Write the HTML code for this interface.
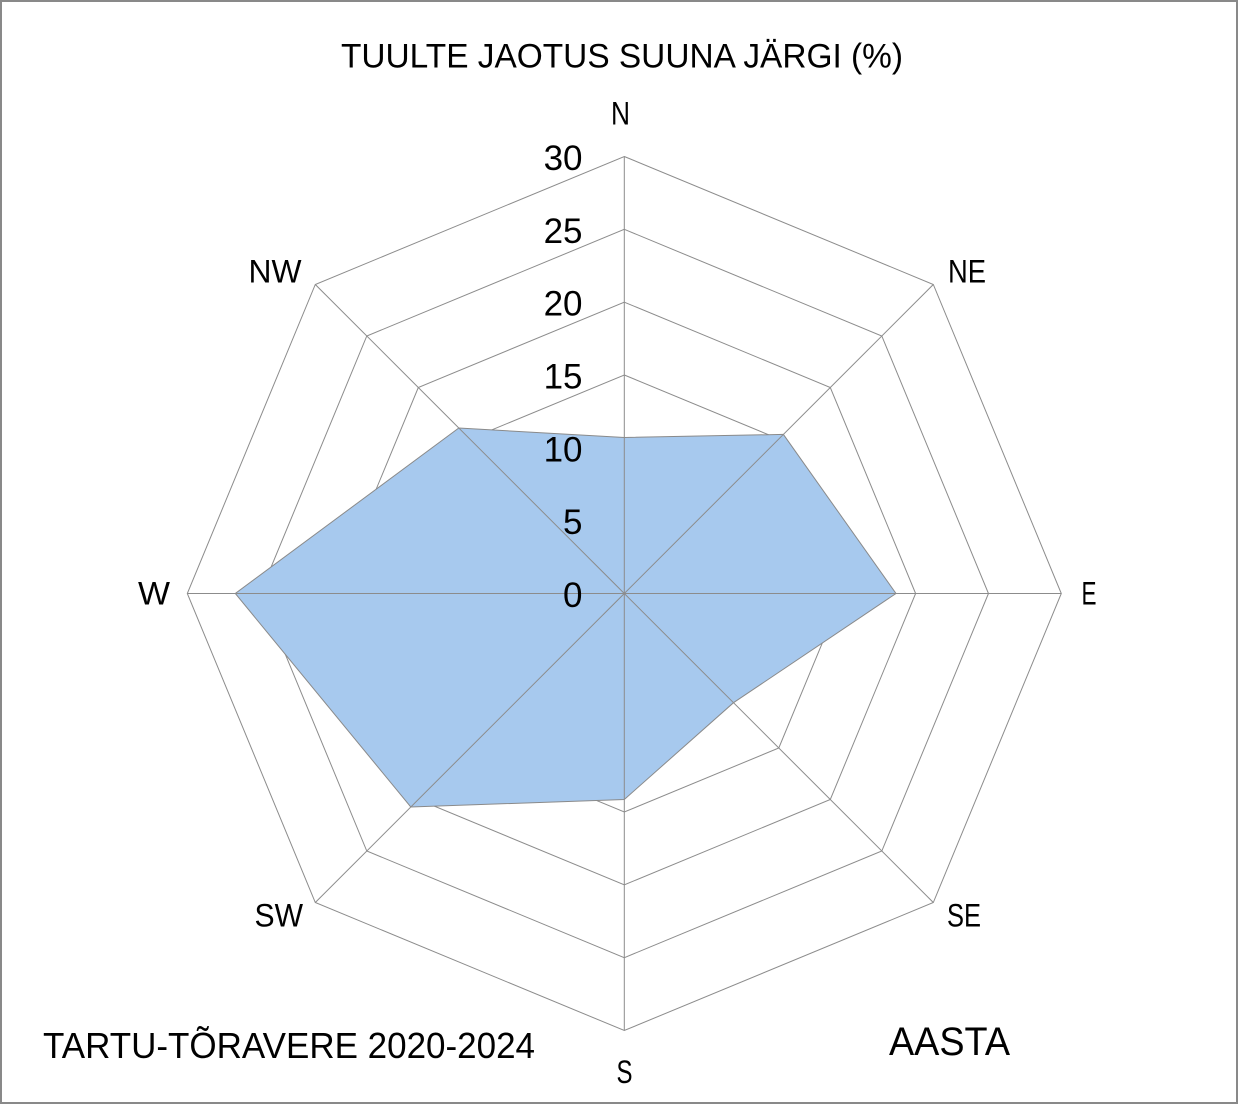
<!DOCTYPE html>
<html>
<head>
<meta charset="utf-8">
<style>
  html,body{margin:0;padding:0;background:#fff;}
  svg{display:block;}
  text{font-family:"Liberation Sans", sans-serif; fill:#000;}
</style>
</head>
<body>
<svg width="1238" height="1104" viewBox="0 0 1238 1104" xmlns="http://www.w3.org/2000/svg">
  <rect x="1" y="1" width="1236" height="1102" fill="#fff" stroke="#898989" stroke-width="2"/>

  <!-- rings -->
  <g transform="translate(624.3,593.5)" fill="none" stroke="#8c8c8c" stroke-width="1">
    <polygon vector-effect="non-scaling-stroke" transform="scale(72.83)" points="0,-1 0.70711,-0.70711 1,0 0.70711,0.70711 0,1 -0.70711,0.70711 -1,0 -0.70711,-0.70711"/>
    <polygon vector-effect="non-scaling-stroke" transform="scale(145.67)" points="0,-1 0.70711,-0.70711 1,0 0.70711,0.70711 0,1 -0.70711,0.70711 -1,0 -0.70711,-0.70711"/>
    <polygon vector-effect="non-scaling-stroke" transform="scale(218.5)" points="0,-1 0.70711,-0.70711 1,0 0.70711,0.70711 0,1 -0.70711,0.70711 -1,0 -0.70711,-0.70711"/>
    <polygon vector-effect="non-scaling-stroke" transform="scale(291.33)" points="0,-1 0.70711,-0.70711 1,0 0.70711,0.70711 0,1 -0.70711,0.70711 -1,0 -0.70711,-0.70711"/>
    <polygon vector-effect="non-scaling-stroke" transform="scale(364.17)" points="0,-1 0.70711,-0.70711 1,0 0.70711,0.70711 0,1 -0.70711,0.70711 -1,0 -0.70711,-0.70711"/>
    <polygon vector-effect="non-scaling-stroke" transform="scale(437)" points="0,-1 0.70711,-0.70711 1,0 0.70711,0.70711 0,1 -0.70711,0.70711 -1,0 -0.70711,-0.70711"/>
  </g>

  <!-- data area -->
  <polygon points="624.3,437.5 783.4,434.4 896,593.5 733.5,702.7 624.3,799.5 410.8,807 235.3,593.5 458.8,428"
           fill="#a7c9ee" stroke="#8a8a8a" stroke-width="1"/>

  <!-- spokes -->
  <g stroke="#8c8c8c" stroke-width="1">
    <line x1="624.3" y1="593.5" x2="624.3" y2="156.5"/>
    <line x1="624.3" y1="593.5" x2="933.3" y2="284.5"/>
    <line x1="624.3" y1="593.5" x2="1061.3" y2="593.5"/>
    <line x1="624.3" y1="593.5" x2="933.3" y2="902.5"/>
    <line x1="624.3" y1="593.5" x2="624.3" y2="1030.5"/>
    <line x1="624.3" y1="593.5" x2="315.3" y2="902.5"/>
    <line x1="624.3" y1="593.5" x2="187.3" y2="593.5"/>
    <line x1="624.3" y1="593.5" x2="315.3" y2="284.5"/>
  </g>

  <!-- title -->
  <text x="341" y="67.5" font-size="34" textLength="562" lengthAdjust="spacingAndGlyphs">TUULTE JAOTUS SUUNA JÄRGI (%)</text>

  <!-- tick labels -->
  <g font-size="35" text-anchor="end">
    <text x="582.5" y="170">30</text>
    <text x="582.5" y="242.8">25</text>
    <text x="582.5" y="315.6">20</text>
    <text x="582.5" y="388.4">15</text>
    <text x="582.5" y="461.3">10</text>
    <text x="582.5" y="534.1">5</text>
    <text x="582.5" y="607">0</text>
  </g>

  <!-- direction labels -->
  <g font-size="32">
    <text x="611" y="124.5" textLength="19" lengthAdjust="spacingAndGlyphs">N</text>
    <text x="948" y="282.5" textLength="38" lengthAdjust="spacingAndGlyphs">NE</text>
    <text x="1081.5" y="604.5" textLength="15" lengthAdjust="spacingAndGlyphs">E</text>
    <text x="947" y="926.5" textLength="34" lengthAdjust="spacingAndGlyphs">SE</text>
    <text x="616.5" y="1083" textLength="16" lengthAdjust="spacingAndGlyphs">S</text>
    <text x="254.5" y="926.5" textLength="48.5" lengthAdjust="spacingAndGlyphs">SW</text>
    <text x="138" y="604.5" textLength="32" lengthAdjust="spacingAndGlyphs">W</text>
    <text x="248.5" y="282.5" textLength="53" lengthAdjust="spacingAndGlyphs">NW</text>
  </g>

  <!-- bottom labels -->
  <text x="43" y="1058" font-size="36" textLength="492" lengthAdjust="spacingAndGlyphs">TARTU-TÕRAVERE 2020-2024</text>
  <text x="889" y="1055" font-size="40" textLength="121" lengthAdjust="spacingAndGlyphs">AASTA</text>
</svg>
</body>
</html>
